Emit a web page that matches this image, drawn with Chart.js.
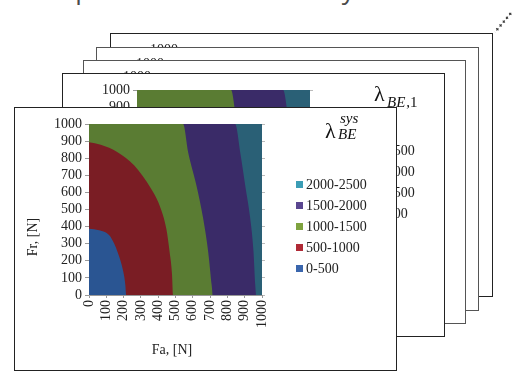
<!DOCTYPE html>
<html><head><meta charset="utf-8">
<script src="https://cdn.jsdelivr.net/npm/chart.js@4.4.1/dist/chart.umd.min.js"></script>
<style>
html,body{margin:0;padding:0;background:#fff;width:513px;height:372px;overflow:hidden;position:relative;}
.card{position:absolute;width:383px;height:264px;box-sizing:border-box;border:1px solid #222;background:#fff;}
.card canvas{display:block;}
#toptext{position:absolute;left:-4px;top:-26px;font-family:"Open Sans";font-size:26px;line-height:30px;color:#4a4a4a;white-space:nowrap;}
#dots{position:absolute;left:502px;top:9px;width:3px;height:26px;transform:rotate(40deg);background:radial-gradient(circle,#333 1px,rgba(0,0,0,0) 1.4px);background-size:3px 5px;background-repeat:repeat-y;}
</style></head><body>
<div id="toptext">ration plotted at each level by</div>
<div id="dots"></div>
<div class="card" style="left:110px;top:33px"><canvas id="k4" width="381" height="262"></canvas></div>
<div class="card" style="left:96px;top:47px;border-color:#555"><canvas id="k3" width="381" height="262"></canvas></div>
<div class="card" style="left:83px;top:60px;border-color:#555"><canvas id="k2" width="381" height="262"></canvas></div>
<div class="card" style="left:62px;top:73px"><canvas id="k1" width="381" height="262"></canvas></div>
<div class="card" style="left:14px;top:107px"><canvas id="k0" width="381" height="262"></canvas></div>
<script>
// ---- data ----
const bandLabels = ["0-500", "500-1000", "1000-1500", "1500-2000", "2000-2500"];
const bandColors = ["#2a5592", "#7a1d24", "#5a7c33", "#3a2b68", "#2a6076"];
const swatchColors = ["#3a66ad", "#b02a36", "#7fa33f", "#5a4690", "#3b9db5"];
const axisTicks = [0, 100, 200, 300, 400, 500, 600, 700, 800, 900, 1000];
// contour edges: Fa values and matching Fr values
const edge500Fa  = [0, 58, 117, 146, 165, 194, 210, 214];
const edge500Fr  = [388, 379, 350, 300, 252, 155, 58, 0];
const edge1000Fa = [0, 68, 165, 262, 359, 408, 447, 466, 480, 485];
const edge1000Fr = [893, 878, 835, 757, 621, 524, 388, 252, 117, 0];
const edge1500Fa = [0, 544, 573, 621, 660, 689, 709, 715];
const edge1500Fr = [1000, 1000, 835, 641, 447, 252, 58, 0];
const edge2000Fa = [0, 845, 874, 903, 932, 951, 961, 965];
const edge2000Fr = [1000, 1000, 835, 641, 447, 252, 58, 0];
const edge2500Fa = [0, 1000];
const edge2500Fr = [1000, 1000];

const edges = [[edge500Fa, edge500Fr], [edge1000Fa, edge1000Fr], [edge1500Fa, edge1500Fr], [edge2000Fa, edge2000Fr], [edge2500Fa, edge2500Fr]];

function buildDatasets() {
  return edges.map((e, i) => ({
    label: bandLabels[i],
    data: e[0].map((fa, j) => ({ x: fa, y: e[1][j] })),
    backgroundColor: bandColors[i],
    borderColor: bandColors[i],
    borderWidth: 0,
    pointRadius: 0,
    fill: 'origin',
    cubicInterpolationMode: 'monotone'
  }));
}

const serif = '"Liberation Serif", "Times New Roman", serif';

function decorPlugin(kind) {
  return {
    id: 'decor',
    afterDraw(chart) {
      const ctx = chart.ctx;
      ctx.save();
      ctx.textBaseline = 'middle';
      ctx.textAlign = 'left';
      ctx.font = '14px ' + serif;
      for (let i = 0; i < bandLabels.length; i++) {
        const k = bandLabels.length - 1 - i;
        const y = 76 + i * 21;
        ctx.fillStyle = swatchColors[k];
        ctx.fillRect(281, y - 3, 7, 7);
        ctx.fillStyle = '#222';
        ctx.fillText(bandLabels[k], 291, y + 1);
      }
      ctx.fillStyle = '#222';
      ctx.font = '14px ' + serif;
      ctx.textAlign = 'center';
      ctx.fillText('Fa, [N]', 157, 242);
      ctx.save();
      ctx.translate(18, 129);
      ctx.rotate(-Math.PI / 2);
      ctx.fillText('Fr, [N]', 0, 0);
      ctx.restore();
      ctx.textAlign = 'left';
      ctx.textBaseline = 'alphabetic';
      ctx.fillStyle = '#111';
      if (kind === 0) {
        ctx.font = '22px ' + serif;
        ctx.fillText('λ', 310, 30);
        ctx.font = 'italic 15px ' + serif;
        ctx.fillText('sys', 325, 15);
        ctx.fillText('BE', 323, 31);
      } else if (kind === 1) {
        ctx.font = '22px ' + serif;
        ctx.fillText('λ', 311, 27);
        ctx.font = 'italic 15px ' + serif;
        ctx.fillText('BE', 324, 33);
        const w = ctx.measureText('BE').width;
        ctx.font = '15px ' + serif;
        ctx.fillText(',' + kind, 324 + w + 1, 33);
      }
      ctx.restore();
    }
  };
}

const tickFmt = v => String(v);

function makeChart(id, kind) {
  new Chart(document.getElementById(id), {
    type: 'line',
    data: { datasets: buildDatasets() },
    options: {
      responsive: false,
      animation: false,
      events: [],
      layout: { padding: { top: 16, left: 0, right: 0, bottom: 0 } },
      plugins: { legend: { display: false }, tooltip: { enabled: false } },
      scales: {
        x: {
          type: 'linear', min: 0, max: 1000, z: 1,
          afterBuildTicks: s => { s.ticks = axisTicks.map(v => ({ value: v })); },
          ticks: { autoSkip: false, callback: tickFmt, minRotation: 90, maxRotation: 90, padding: 2, color: '#222', font: { family: serif, size: 14 } },
          grid: { color: 'rgba(255,255,255,0.10)', tickColor: '#999', tickLength: 3 },
          border: { color: '#999' },
          afterFit: s => { s.height = 75; }
        },
        y: {
          type: 'linear', min: 0, max: 1000,
          afterBuildTicks: s => { s.ticks = axisTicks.map(v => ({ value: v })); },
          ticks: { autoSkip: false, callback: tickFmt, padding: 3, color: '#222', font: { family: serif, size: 14 } },
          grid: { drawOnChartArea: false, tickColor: '#999', tickLength: 4 },
          border: { color: '#aaa' },
          afterFit: s => { s.width = 74; }
        },
        y2: {
          type: 'linear', position: 'right', min: 0, max: 1000,
          afterBuildTicks: s => { s.ticks = axisTicks.map(v => ({ value: v })); },
          ticks: { display: false, autoSkip: false },
          grid: { drawOnChartArea: false, tickColor: '#bbb', tickLength: 3 },
          border: { display: false },
          afterFit: s => { s.width = 134; }
        }
      }
    },
    plugins: [decorPlugin(kind)]
  });
}

makeChart('k4', 4);
makeChart('k3', 3);
makeChart('k2', 2);
makeChart('k1', 1);
makeChart('k0', 0);
</script>
</body></html>
